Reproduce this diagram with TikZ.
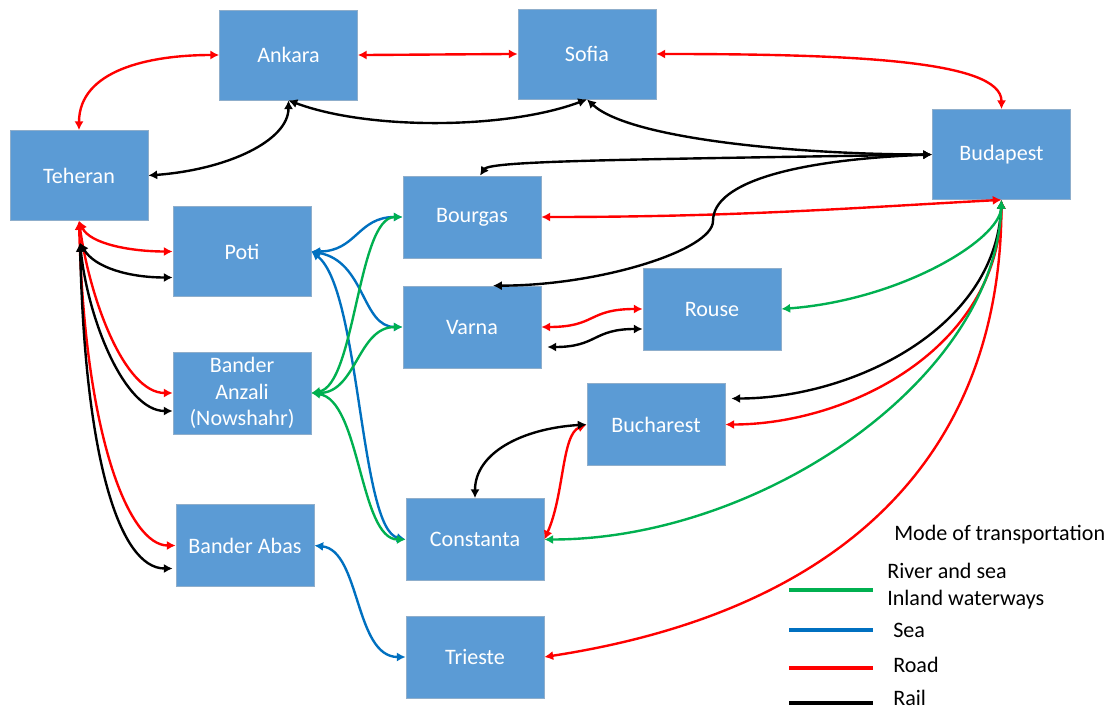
\documentclass[tikz,border=0pt]{standalone}
\usepackage{fontspec}
\setmainfont{Carlito}
\usepackage{tikz}
\usetikzlibrary{arrows.meta, calc}

\definecolor{boxblue}{HTML}{5B9BD5}
\definecolor{boxedge}{HTML}{8FAECB}
\definecolor{roadred}{HTML}{FF0000}
\definecolor{seablue}{HTML}{0070C0}
\definecolor{rivergreen}{HTML}{00B050}

\begin{document}
\begin{tikzpicture}[x=0.025cm, y=-0.025cm]
  \tikzset{
    city/.style={rectangle, fill=boxblue, draw=boxedge, line width=0.5pt, text=white,
      minimum width=3.45cm, minimum height=2.05cm, inner sep=0pt, align=center,
      font=\fontsize{15.7}{19}\selectfont},
    citytall/.style={city, minimum height=2.25cm},
    link/.style={line width=1.7pt, {Latex[length=2.2mm, width=2.3mm]}-{Latex[length=2.2mm, width=2.3mm]}},
    road/.style={link, draw=roadred, fill=none, color=roadred},
    rail/.style={link, draw=black, color=black},
    sea/.style={link, draw=seablue, color=seablue},
    river/.style={link, draw=rivergreen, color=rivergreen},
    swatch/.style={line width=2.8pt},
    legendtext/.style={anchor=west, inner sep=0pt, align=left, font=\fontsize{15.7}{19}\selectfont}
  }

  \useasboundingbox (0,0) rectangle (1114,709);

  % Cities
  \node[citytall] (Ankara) at (288.5,55) {Ankara};
  \node[citytall] (Sofia) at (587,54) {Sofia};
  \node[citytall] (Teheran) at (79,175.5) {Teheran};
  \node[citytall] (Budapest) at (1001.5,154.5) {Budapest};
  \node[citytall] (Poti) at (242,251.5) {Poti};
  \node[city] (Bourgas) at (472,217) {Bourgas};
  \node[city] (Varna) at (472,327) {Varna};
  \node[city] (Rouse) at (712,309) {Rouse};
  \node[city] (Anzali) at (242,393) {Bander\\Anzali\\(Nowshahr)};
  \node[city] (Bucharest) at (656,424.5) {Bucharest};
  \node[city] (Abas) at (245,545.5) {Bander Abas};
  \node[city] (Constanta) at (475,539.5) {Constanta};
  \node[city] (Trieste) at (475,657) {Trieste};

  % Helper points for the rail links
  \coordinate (TehRail) at ($(Teheran.south)+(1,22)$);
  \coordinate (BourgasTop) at ($(Bourgas.north)+(8,0)$);
  \coordinate (VarnaTop) at ($(Varna.north)+(21,0)$);
  \coordinate (RailKink) at (713,221);

  % Road
  \draw[road] (Teheran.north) .. controls +(0,-60) and +(-70,0) .. (Ankara.west);
  \draw[road] (Ankara.east) .. controls +(80,0) and +(-80,0) .. (Sofia.west);
  \draw[road] (Sofia.east) .. controls +(194,0) and +(0,-49) .. (Budapest.north);
  \draw[road] (Teheran.south) .. controls +(11,23) and +(-42,0) .. (Poti.west);
  \draw[road] (Teheran.south) .. controls +(11,79) and +(-48,0) .. (Anzali.west);
  \draw[road] (Teheran.south) .. controls +(6,219) and +(-46,0) .. (Abas.west);
  \draw[road] (Bourgas.east) .. controls +(200,0) and +(-150,8) .. (Budapest.south);
  \draw[road] (Varna.east) .. controls +(55,0) and +(-55,0) .. (Rouse.west);
  \draw[road] (Bucharest.west) .. controls +(-25,10) and +(20,-45) .. (Constanta.east);
  \draw[road] (Budapest.south) .. controls +(-3,150) and +(122,0) .. (Bucharest.east);
  \draw[road] (Budapest.south) .. controls +(-1,250) and +(306,-47) .. (Trieste.east);

  % Rail
  \draw[rail] (Teheran.east) .. controls +(80,-6) and +(0,40) .. (Ankara.south);
  \draw[rail] (Ankara.south) .. controls +(80,30) and +(-80,30) .. (Sofia.south);
  \draw[rail] (Sofia.south) .. controls +(43,40) and +(-132,0) .. (Budapest.west);
  \draw[rail] (BourgasTop) .. controls +(10,-15) and +(-300,5) .. (Budapest.west);
  \draw[rail] (Budapest.west) .. controls +(-132,5) and +(0,-40) .. (RailKink)
    .. controls +(0,29) and +(107,0) .. (VarnaTop);
  \draw[rail] (TehRail) .. controls +(15,25) and +(-43,0) .. ($(Poti.west)+(0,26)$);
  \draw[rail] (TehRail) .. controls +(8,77) and +(-48,0) .. ($(Anzali.west)+(0,18)$);
  \draw[rail] (TehRail) .. controls +(5,217) and +(-53,0) .. ($(Abas.west)+(-3,23)$);
  \draw[rail] ($(Varna.east)+(6,20)$) .. controls +(50,0) and +(-50,0) .. ($(Rouse.west)+(0,20)$);
  \draw[rail] (Bucharest.west) .. controls +(-65,4) and +(0,-45) .. (Constanta.north);
  \draw[rail] (Budapest.south) .. controls +(-6,130) and +(119,0) .. ($(Bucharest.east)+(6,-26)$);

  % Sea
  \draw[sea] (Poti.east) .. controls +(45,0) and +(-45,0) .. (Bourgas.west);
  \draw[sea] (Poti.east) .. controls +(54,10) and +(-41,0) .. (Varna.west);
  \draw[sea] (Poti.east) .. controls +(49,38) and +(-46,-10) .. (Constanta.west);
  \draw[sea] (Abas.east) .. controls +(46,5) and +(-51,0) .. (Trieste.west);

  % River and sea, inland waterways
  \draw[river] (Anzali.east) .. controls +(44,-8) and +(-45,0) .. (Bourgas.west);
  \draw[river] (Anzali.east) .. controls +(45,0) and +(-45,0) .. (Varna.west);
  \draw[river] (Anzali.east) .. controls +(49,7) and +(-46,0) .. (Constanta.west);
  \draw[river] (Budapest.south) .. controls +(-1.5,40) and +(119,-9) .. (Rouse.east);
  \draw[river] (Budapest.south) .. controls +(-6.5,180) and +(216,0) .. (Constanta.east);

  % Legend
  \node[legendtext] (LegendTitle) at (894,535) {Mode of transportation};
  \node[legendtext] (RiverText) at (887,586) {River and sea\\Inland waterways};
  \node[legendtext] (SeaText) at (893,630) {Sea};
  \node[legendtext] (RoadText) at (893,665) {Road};
  \node[legendtext] (RailText) at (893,698) {Rail};
  \draw[swatch, rivergreen] (789,590) -- (873,590);
  \draw[swatch, seablue] (789,630) -- (873,630);
  \draw[swatch, roadred] (789,668) -- (873,668);
  \draw[swatch, black] (789,703) -- (873,703);
\end{tikzpicture}
\end{document}
